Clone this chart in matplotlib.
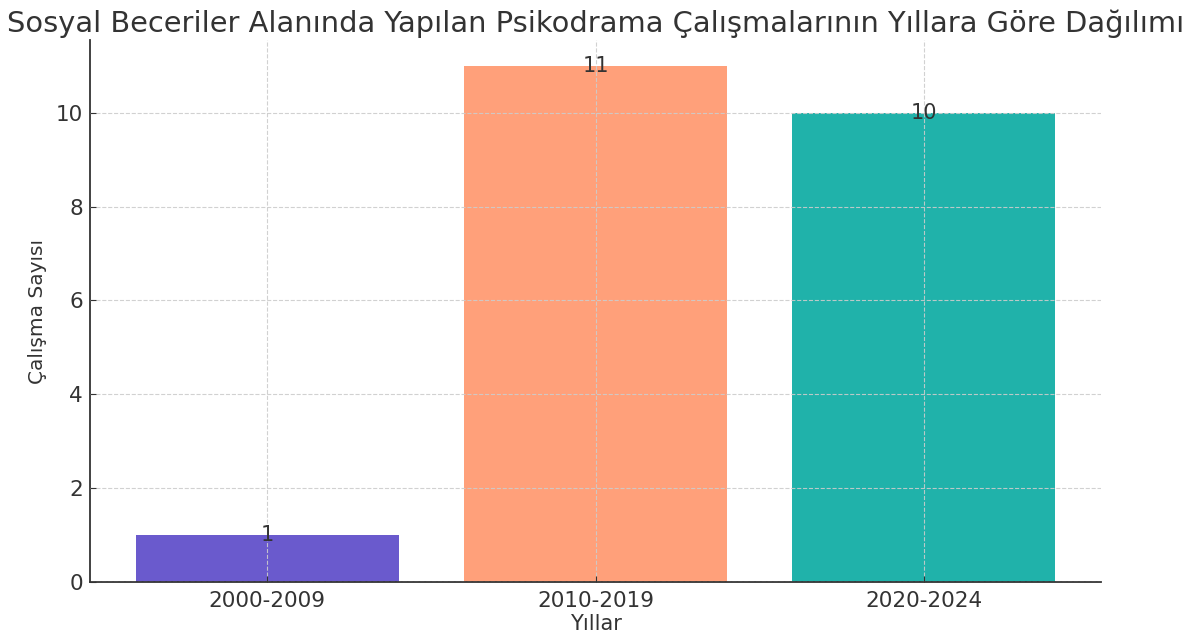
import matplotlib
matplotlib.use("Agg")
import matplotlib.pyplot as plt

years = ["2000-2009", "2010-2019", "2020-2024"]
counts = [1, 11, 10]
colors = ["#6A5ACD", "#FFA07A", "#20B2AA"]

text_color = "#333333"

fig = plt.figure(figsize=(12.03, 6.35), dpi=100)
ax = fig.add_axes([90 / 1203, 53 / 635, 1011 / 1203, 542 / 635])

bars = ax.bar(years, counts, color=colors, width=0.8)
ax.set_axisbelow(False)
ax.grid(True, linestyle="--", color="#cccccc", linewidth=0.8, alpha=0.9)

for bar, val in zip(bars, counts):
    ax.text(bar.get_x() + bar.get_width() / 2, bar.get_height(), str(val),
            ha="center", va="center", fontsize=15, color=text_color)

ax.set_title("Sosyal Beceriler Alanında Yapılan Psikodrama Çalışmalarının Yıllara Göre Dağılımı",
             fontsize=20.8, color=text_color, pad=6)
ax.set_xlabel("Yıllar", fontsize=15, color=text_color, labelpad=2.5)
ax.set_ylabel("Çalışma Sayısı", fontsize=14.5, color=text_color, labelpad=6)
ax.tick_params(labelsize=15.5, colors=text_color, direction="in", length=4)
ax.tick_params(axis="x", pad=6.5)
ax.tick_params(axis="y", pad=5)
for side in ["top", "right"]:
    ax.spines[side].set_visible(False)
for side in ["left", "bottom"]:
    ax.spines[side].set_color(text_color)
    ax.spines[side].set_linewidth(1.3)

fig.savefig("out.png", dpi=100)
